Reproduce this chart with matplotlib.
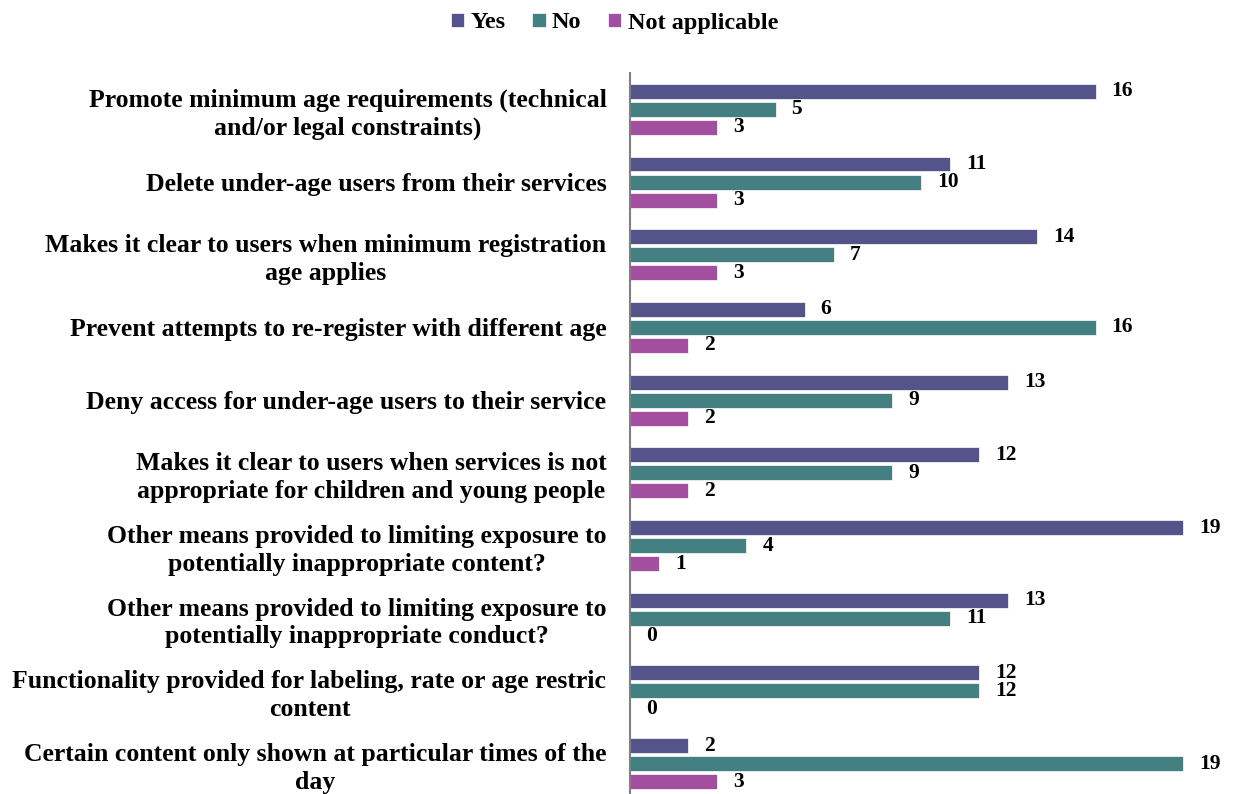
import numpy as np
import matplotlib.pyplot as plt

categories = [
    "Promote minimum age requirements (technical\nand/or legal constraints)",
    "Delete under-age users from their services",
    "Makes it clear to users when minimum registration\nage applies",
    "Prevent attempts to re-register with different age",
    "Deny access for under-age users to their service",
    "Makes it clear to users when services is not\nappropriate for children and young people",
    "Other means provided to limiting exposure to\npotentially inappropriate content?",
    "Other means provided to limiting exposure to\npotentially inappropriate conduct?",
    "Functionality provided for labeling, rate or age restric\ncontent",
    "Certain content only shown at particular times of the\nday",
]
yes = [16, 11, 14, 6, 13, 12, 19, 13, 12, 2]
no = [5, 10, 7, 16, 9, 9, 4, 11, 12, 19]
not_applicable = [3, 3, 3, 2, 2, 2, 1, 0, 0, 3]

series = [("Yes", yes, "#55548A"), ("No", no, "#447F82"), ("Not applicable", not_applicable, "#A34FA0")]

plt.rcParams['font.family'] = ['Liberation Serif', 'DejaVu Serif']
plt.rcParams['font.weight'] = 'bold'

fig = plt.figure(figsize=(12.34, 7.94), dpi=100)
ax = fig.add_axes([630 / 1234, -6 / 794, 604 / 1234, (794 - 73 + 6) / 794])

y = np.arange(len(categories))
h = 0.205
step = 0.248
for i, (name, vals, col) in enumerate(series):
    pos = y + (i - 1) * step
    ax.barh(pos, vals, height=h, color=col, label=name, edgecolor='white', linewidth=0.5)
    for p, v in zip(pos, vals):
        ax.text(v + 0.55, p, str(v), va='center', ha='left', fontsize=15.5, fontweight='bold')

ax.set_xlim(0, 604 / 29.1)
ax.set_ylim(len(categories) - 0.5, -0.5)
ax.set_xticks([])
ax.set_yticks(y)
ax.set_yticklabels(categories, fontsize=18.5, fontweight='bold', linespacing=1.25,
                   multialignment='center')
ax.tick_params(axis='y', length=0, pad=17)
for s in ['top', 'right', 'bottom']:
    ax.spines[s].set_visible(False)
ax.spines['left'].set_color('#808080')
ax.spines['left'].set_linewidth(1.5)

handles, labels = ax.get_legend_handles_labels()
fig.legend(handles, labels, loc='center', bbox_to_anchor=(0.498, 1 - 23 / 794), ncol=3,
           frameon=False, handlelength=0.55, handleheight=0.55,
           handletextpad=0.25, columnspacing=1.1, prop={'weight': 'bold', 'size': 17.5})

fig.savefig('out.png', dpi=100)
